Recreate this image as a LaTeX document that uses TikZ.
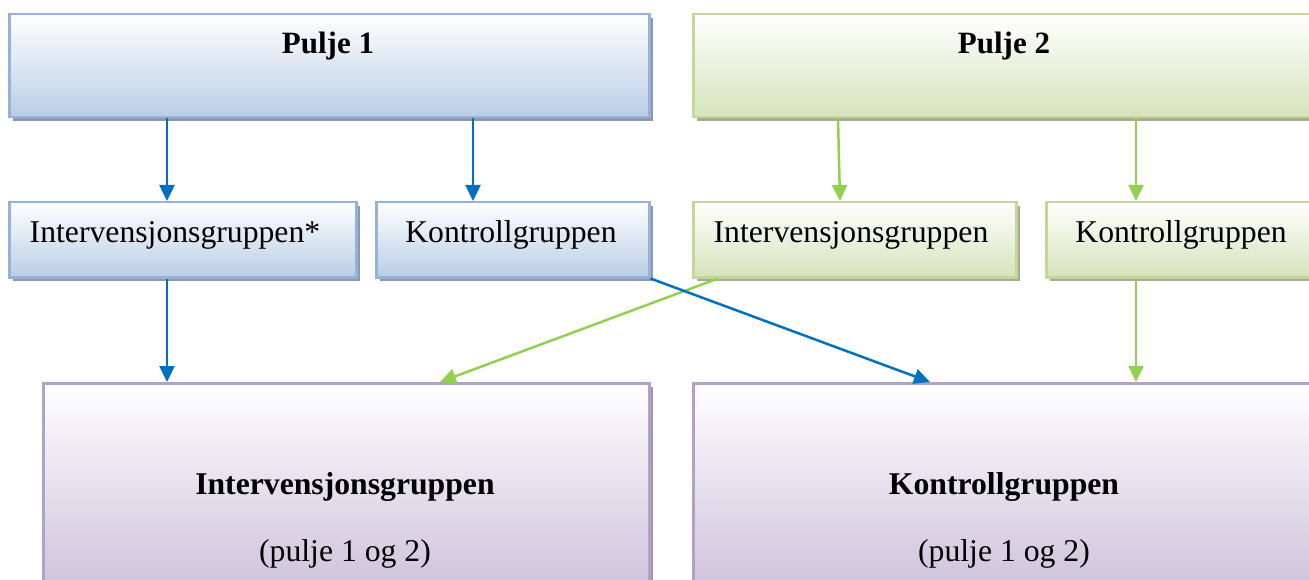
\documentclass[tikz,border=0pt]{standalone}
\usepackage{fontspec}
\setmainfont{Liberation Serif}
\usetikzlibrary{arrows.meta,shadows,calc,positioning}

\definecolor{blueline}{RGB}{149,179,215}
\definecolor{bluefill}{RGB}{185,205,229}
\definecolor{blueshadow}{RGB}{140,152,175}
\definecolor{greenline}{RGB}{195,214,155}
\definecolor{greenfill}{RGB}{214,227,188}
\definecolor{greenshadow}{RGB}{165,172,145}
\definecolor{purpleline}{RGB}{179,162,199}
\definecolor{purplefill}{RGB}{200,188,215}
\definecolor{purpleshadow}{RGB}{160,150,178}
\definecolor{bluearrow}{RGB}{0,112,192}
\definecolor{greenarrow}{RGB}{146,208,80}

\tikzset{
  box/.style={rectangle, line width=2.5pt, anchor=north west, inner sep=0pt},
  bluebox/.style={box, draw=blueline, top color=white, bottom color=bluefill,
    drop shadow={shadow xshift=4pt, shadow yshift=-4pt, fill=blueshadow, opacity=1}},
  greenbox/.style={box, draw=greenline, top color=white, bottom color=greenfill,
    drop shadow={shadow xshift=4pt, shadow yshift=-4pt, fill=greenshadow, opacity=1}},
  purplebox/.style={box, draw=purpleline, top color=white, bottom color=purplefill,
    drop shadow={shadow xshift=4pt, shadow yshift=-4pt, fill=purpleshadow, opacity=1}},
  bluelink/.style={draw=bluearrow, line width=2.5pt, -{Triangle[width=15pt,length=16pt]}},
  greenlink/.style={draw=greenarrow, line width=2.5pt, -{Triangle[width=15pt,length=16pt]}},
}

\begin{document}
\begin{tikzpicture}[x=1pt, y=-1pt, font=\fontsize{31.7}{38}\selectfont]
\useasboundingbox (0,0) rectangle (1309,580);

% top row
\node[bluebox, minimum width=640pt, minimum height=103pt] (pulje1) at (8,13) {};
\node[greenbox, minimum width=624pt, minimum height=103pt] (pulje2) at (692,13) {};
\node[font=\fontsize{31}{38}\selectfont\bfseries] (pulje1txt) at (328,46) {Pulje 1};
\node[font=\fontsize{31}{38}\selectfont\bfseries] (pulje2txt) at (1004,46) {Pulje 2};

% middle row
\node[bluebox, minimum width=347pt, minimum height=75pt] (int1) at (8,201) {};
\node[bluebox, minimum width=273pt, minimum height=75pt] (kon1) at (375,201) {};
\node[greenbox, minimum width=323pt, minimum height=75pt] (int2) at (692,201) {};
\node[greenbox, minimum width=273pt, minimum height=75pt] (kon2) at (1045,201) {};
\node (int1txt) at (175,235) {Intervensjonsgruppen*};
\node (kon1txt) at (511,235) {Kontrollgruppen};
\node (int2txt) at (851,235) {Intervensjonsgruppen};
\node (kon2txt) at (1181,235) {Kontrollgruppen};

% bottom row
\node[purplebox, minimum width=606pt, minimum height=230pt] (intall) at (42,382) {};
\node[purplebox, minimum width=624pt, minimum height=230pt] (konall) at (692,382) {};
\node[align=center] (intalltxt) at (345,520) {\textbf{Intervensjonsgruppen}\\[29pt](pulje 1 og 2)};
\node[align=center] (konalltxt) at (1004,520) {\textbf{Kontrollgruppen}\\[29pt](pulje 1 og 2)};

% arrows
\draw[bluelink] ([xshift=159pt]pulje1.south west) -- ([xshift=159pt]int1.north west);
\draw[bluelink] ([xshift=465pt]pulje1.south west) -- ([xshift=98pt]kon1.north west);
\draw[greenlink] ([xshift=146pt]pulje2.south west) -- ([xshift=148pt]int2.north west);
\draw[greenlink] ([xshift=444pt]pulje2.south west) -- ([xshift=91pt]kon2.north west);
\draw[bluelink] ([xshift=159pt]int1.south west) -- ([xshift=125pt]intall.north west);
\draw[greenlink] ([xshift=91pt]kon2.south west) -- ([xshift=444pt]konall.north west);
\draw[greenlink] ([xshift=26pt]int2.south west) -- ([xshift=398pt]intall.north west);
\draw[bluelink] (kon1.south east) -- ([xshift=238pt]konall.north west);

\end{tikzpicture}
\end{document}
